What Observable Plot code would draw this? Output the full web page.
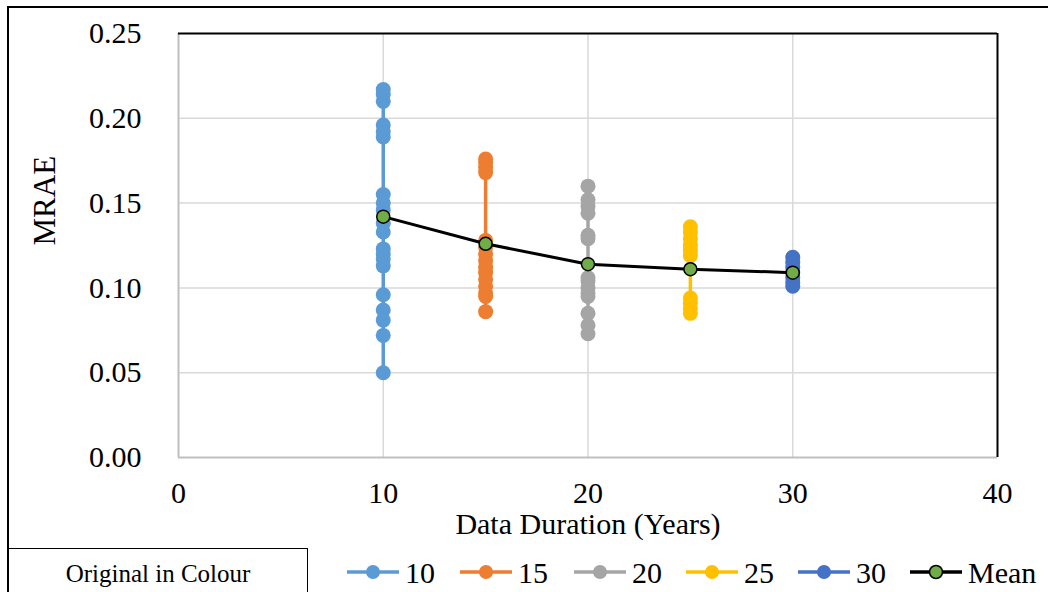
<!DOCTYPE html>
<html><head><meta charset="utf-8">
<script src="https://cdn.jsdelivr.net/npm/d3@7"></script>
<script src="https://cdn.jsdelivr.net/npm/@observablehq/plot@0.6"></script>
<style>
body{margin:0;background:#fff;}
#wrap{position:relative;width:1048px;height:592px;overflow:hidden;font-family:"Liberation Serif","Times New Roman",serif;background:#fff;}
#frame{position:absolute;left:7px;top:6px;width:1100px;height:700px;border-left:2px solid #000;border-top:2px solid #000;}
#chart{position:absolute;left:0;top:0;}
#note{position:absolute;left:8px;top:548px;width:299px;height:60px;border-top:1.5px solid #000;border-right:1.5px solid #000;}
#noteText{position:absolute;left:8px;top:559px;width:300px;text-align:center;font-size:25px;line-height:30px;color:#000;}
#legend{position:absolute;left:0;top:545px;}
</style></head>
<body>
<div id="wrap">
  <div id="frame"></div>
  <div id="chart"></div>
  <div id="note"></div>
  <div id="noteText">Original in Colour</div>
  <div id="legend"></div>
</div>
<script>
// Data
const durations = [10, 15, 20, 25, 30];
const mrae10 = [0.217, 0.214, 0.210, 0.196, 0.192, 0.189, 0.155, 0.150, 0.146, 0.138, 0.133, 0.123, 0.120, 0.117, 0.113, 0.096, 0.087, 0.081, 0.072, 0.050];
const mrae15 = [0.176, 0.174, 0.171, 0.168, 0.128, 0.124, 0.120, 0.116, 0.112, 0.109, 0.105, 0.101, 0.097, 0.095, 0.086];
const mrae20 = [0.160, 0.152, 0.148, 0.144, 0.131, 0.129, 0.106, 0.104, 0.100, 0.097, 0.095, 0.085, 0.078, 0.073];
const mrae25 = [0.136, 0.133, 0.129, 0.125, 0.122, 0.119, 0.094, 0.091, 0.088, 0.085];
const mrae30 = [0.118, 0.115, 0.112, 0.109, 0.106, 0.103, 0.101];
const meanMRAE = [0.142, 0.126, 0.114, 0.111, 0.109];
const seriesNames = ["10", "15", "20", "25", "30"];
const seriesColors = ["#5B9BD5", "#ED7D31", "#A5A5A5", "#FFC000", "#4472C4"];
const meanName = "Mean";
const xTicks = [0, 10, 20, 30, 40];
const yTicks = [0, 0.05, 0.10, 0.15, 0.20, 0.25];
const xTitle = "Data Duration (Years)";
const yTitle = "MRAE";

const seriesValues = [mrae10, mrae15, mrae20, mrae25, mrae30];
const points = durations.flatMap((d, i) => seriesValues[i].map(v => ({duration: d, mrae: v, series: seriesNames[i]})));
const means = durations.map((d, i) => ({duration: d, mrae: meanMRAE[i]}));

const chart = Plot.plot({
  width: 1048, height: 545,
  marginLeft: 178, marginRight: 51, marginTop: 33, marginBottom: 88,
  style: {fontFamily: "'Liberation Serif','Times New Roman',serif", fontSize: "30px", background: "transparent", color: "#000", overflow: "visible"},
  x: {domain: [0, 40]},
  y: {domain: [0, 0.25]},
  color: {domain: seriesNames, range: seriesColors},
  marks: [
    Plot.ruleY(yTicks.slice(1, -1), {stroke: "#d9d9d9", strokeWidth: 1.5}),
    Plot.ruleX(xTicks.slice(1, -1), {stroke: "#d9d9d9", strokeWidth: 1.5}),
    Plot.ruleY([0], {stroke: "#bfbfbf", strokeWidth: 2}),
    Plot.ruleX([0], {stroke: "#bfbfbf", strokeWidth: 2}),
    Plot.ruleY([0.25], {stroke: "#000", strokeWidth: 2}),
    Plot.ruleX([40], {stroke: "#000", strokeWidth: 2}),
    Plot.axisX(xTicks, {tickSize: 0, tickPadding: 24, tickFormat: d => String(d), fontSize: 30, label: null}),
    Plot.axisY(yTicks, {tickSize: 0, tickPadding: 37, tickFormat: d => d.toFixed(2), fontSize: 30, label: null}),
    Plot.line(points, {x: "duration", y: "mrae", z: "series", stroke: "series", strokeWidth: 3.5}),
    Plot.dot(points, {x: "duration", y: "mrae", fill: "series", r: 7.5}),
    Plot.line(means, {x: "duration", y: "mrae", stroke: "#000", strokeWidth: 3}),
    Plot.dot(means, {x: "duration", y: "mrae", fill: "#70AD47", stroke: "#000", strokeWidth: 1.5, r: 6.5}),
    Plot.text([xTitle], {text: d => d, frameAnchor: "bottom", dy: 76, fontSize: 30}),
    Plot.text([yTitle], {text: d => d, frameAnchor: "left", dx: -133, rotate: -90, fontSize: 31})
  ]
});
document.getElementById("chart").appendChild(chart);

// Legend
const ns = "http://www.w3.org/2000/svg";
const leg = document.createElementNS(ns, "svg");
leg.setAttribute("width", 1048);
leg.setAttribute("height", 47);
leg.style.fontFamily = "'Liberation Serif','Times New Roman',serif";
const legendItems = seriesNames.map((n, i) => ({label: n, color: seriesColors[i], fill: seriesColors[i], stroke: "none"}))
  .concat([{label: meanName, color: "#000", fill: "#70AD47", stroke: "#000"}]);
const starts = [347, 460, 574, 686, 798, 910];
const cy = 27;
legendItems.forEach((it, i) => {
  const x0 = starts[i];
  const ln = document.createElementNS(ns, "line");
  ln.setAttribute("x1", x0); ln.setAttribute("x2", x0 + 52);
  ln.setAttribute("y1", cy); ln.setAttribute("y2", cy);
  ln.setAttribute("stroke", it.color); ln.setAttribute("stroke-width", 3.5);
  leg.appendChild(ln);
  const c = document.createElementNS(ns, "circle");
  c.setAttribute("cx", x0 + 26); c.setAttribute("cy", cy);
  c.setAttribute("r", it.stroke === "none" ? 7 : 6.5);
  c.setAttribute("fill", it.fill);
  if (it.stroke !== "none") { c.setAttribute("stroke", it.stroke); c.setAttribute("stroke-width", 1.5); }
  leg.appendChild(c);
  const t = document.createElementNS(ns, "text");
  t.setAttribute("x", x0 + 58); t.setAttribute("y", cy);
  t.setAttribute("dy", "0.35em");
  t.setAttribute("font-size", 30);
  t.setAttribute("fill", "#000");
  t.textContent = it.label;
  leg.appendChild(t);
});
document.getElementById("legend").appendChild(leg);
</script>
</body></html>
